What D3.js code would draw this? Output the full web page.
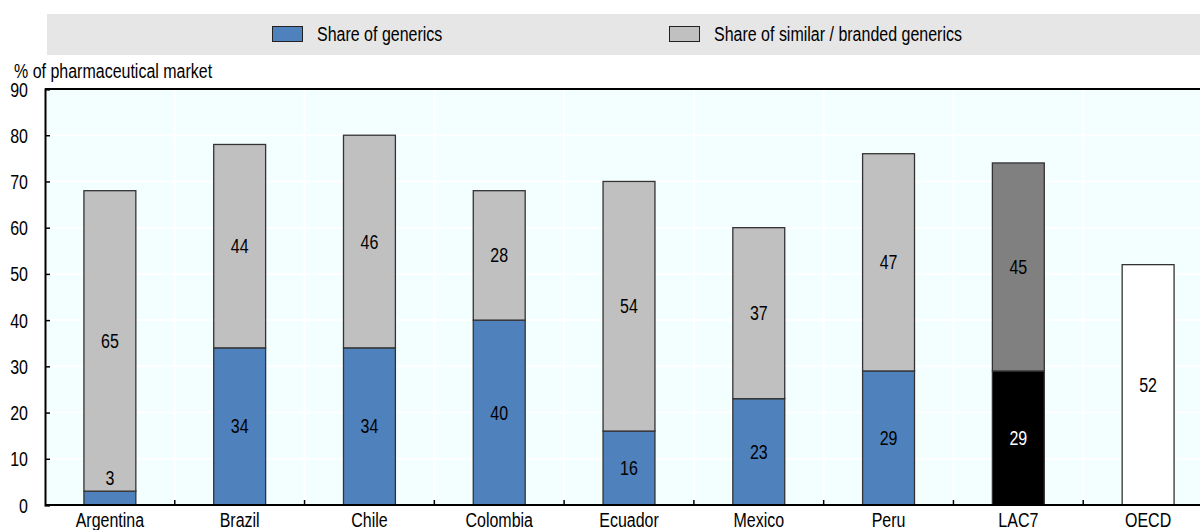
<!DOCTYPE html>
<html>
<head>
<meta charset="utf-8">
<script src="https://cdn.jsdelivr.net/npm/d3@7"></script>
<style>
  html, body { margin: 0; padding: 0; background: #fff; overflow: hidden; }
  svg { display: block; }
  text { font-family: "Liberation Sans", Arial, sans-serif; }
</style>
</head>
<body>
<svg id="chart" width="1200" height="530"></svg>
<script>
// Market shares (% of pharmaceutical market)
const categories = ["Argentina", "Brazil", "Chile", "Colombia", "Ecuador", "Mexico", "Peru", "LAC7", "OECD"];
const genericsShare = [3, 34, 34, 40, 16, 23, 29, 29, 52];
const similarShare = [65, 44, 46, 28, 54, 37, 47, 45, null];
const yTicks = [0, 10, 20, 30, 40, 50, 60, 70, 80, 90];
const legendLabels = ["Share of generics", "Share of similar / branded generics"];

const svg = d3.select("#chart");
const W = 1200, H = 530;
const FS = 19.5;      // text size
const NARROW = 0.82;  // horizontal condensing for a narrow face

const plot = { left: 45, right: 1213, top: 89, bottom: 505 };

// Places a condensed text at (px, py)
function narrowText(parent, px, py, str, opts = {}) {
  return parent.append("text")
    .attr("transform", `translate(${px},${py}) scale(${NARROW},1)`)
    .attr("text-anchor", opts.anchor || "start")
    .attr("font-size", opts.size || FS)
    .attr("fill", opts.fill || "#000")
    .text(str);
}

const x = d3.scaleBand()
  .domain(categories)
  .range([plot.left, plot.right])
  .paddingInner(0.6)
  .paddingOuter(0.3);

const y = d3.scaleLinear().domain([0, 90]).range([plot.bottom, plot.top]);

// Colour per category: regular countries, LAC7 average, OECD average
function fillGenerics(c) {
  if (c === "LAC7") return "#000000";
  if (c === "OECD") return "#ffffff";
  return "#4f81bd";
}
function fillSimilar(c) {
  return c === "LAC7" ? "#808080" : "#c0c0c0";
}

// Legend band
const legend = svg.append("g");
legend.append("rect")
  .attr("x", 47).attr("y", 14).attr("width", W - 47).attr("height", 41)
  .attr("fill", "#e6e6e6");
const legendItems = [
  { label: legendLabels[0], fill: "#4f81bd", x: 272 },
  { label: legendLabels[1], fill: "#c0c0c0", x: 669 }
];
legendItems.forEach(d => {
  legend.append("rect")
    .attr("x", d.x + 0.5).attr("y", 26.5).attr("width", 30).attr("height", 15)
    .attr("fill", d.fill).attr("stroke", "#222").attr("stroke-width", 1);
  narrowText(legend, d.x + 45, 41, d.label);
});

// Plot background
svg.append("rect")
  .attr("x", plot.left).attr("y", plot.top)
  .attr("width", plot.right - plot.left).attr("height", plot.bottom - plot.top)
  .attr("fill", "#f3ffff");

// Horizontal grid
svg.append("g")
  .selectAll("line")
  .data(yTicks.filter(t => t > 0 && t < 90))
  .join("line")
  .attr("x1", plot.left).attr("x2", plot.right)
  .attr("y1", d => y(d)).attr("y2", d => y(d))
  .attr("stroke", "#ffffff").attr("stroke-width", 2);

// Vertical grid at category boundaries
const step = x.step();
const boundaries = categories.slice(1).map(c => x(c) - (step - x.bandwidth()) / 2);
svg.append("g")
  .selectAll("line")
  .data(boundaries)
  .join("line")
  .attr("x1", d => d).attr("x2", d => d)
  .attr("y1", plot.top).attr("y2", plot.bottom)
  .attr("stroke", "#ffffff").attr("stroke-width", 2);

// Stacked bars
const rows = categories.map((c, i) => ({ c, g: genericsShare[i], s: similarShare[i] }));
const bars = svg.append("g");

bars.selectAll("rect.gen")
  .data(rows)
  .join("rect")
  .attr("class", "gen")
  .attr("x", d => x(d.c))
  .attr("width", x.bandwidth())
  .attr("y", d => y(d.g))
  .attr("height", d => y(0) - y(d.g))
  .attr("fill", d => fillGenerics(d.c))
  .attr("stroke", "#333")
  .attr("stroke-width", 1.3);

bars.selectAll("rect.sim")
  .data(rows.filter(d => d.s != null))
  .join("rect")
  .attr("class", "sim")
  .attr("x", d => x(d.c))
  .attr("width", x.bandwidth())
  .attr("y", d => y(d.g + d.s))
  .attr("height", d => y(d.g) - y(d.g + d.s))
  .attr("fill", d => fillSimilar(d.c))
  .attr("stroke", "#333")
  .attr("stroke-width", 1.3);

// Value labels
const labels = svg.append("g");
rows.forEach(d => {
  const cx = x(d.c) + x.bandwidth() / 2;
  const segPx = y(0) - y(d.g);
  // small segments get their label just above the segment
  const gy = segPx < 20 ? y(d.g) - 6 : y(d.g / 2) + 7;
  narrowText(labels, cx, gy, d.g, { anchor: "middle", fill: d.c === "LAC7" ? "#ffffff" : "#000" });
  if (d.s != null) {
    narrowText(labels, cx, y(d.g + d.s / 2) + 7, d.s, { anchor: "middle" });
  }
});

// Top border
svg.append("line")
  .attr("x1", plot.left).attr("x2", plot.right)
  .attr("y1", plot.top).attr("y2", plot.top)
  .attr("stroke", "#000").attr("stroke-width", 2);

// Y axis (ticks point into the plot)
const yAxis = d3.axisLeft(y).tickValues(yTicks).tickSize(-5).tickPadding(0);
const ya = svg.append("g").attr("transform", `translate(${plot.left},0)`).call(yAxis);
ya.select(".domain").attr("stroke", "#000").attr("stroke-width", 2);
ya.selectAll(".tick line").attr("stroke", "#000").attr("stroke-width", 1.5);
ya.selectAll(".tick text")
  .attr("font-size", FS).attr("fill", "#000")
  .attr("font-family", '"Liberation Sans", Arial, sans-serif')
  .attr("x", -17 / NARROW)
  .attr("dy", "0.36em")
  .attr("transform", `scale(${NARROW},1)`);

// X axis: baseline, boundary ticks and category labels
svg.append("line")
  .attr("x1", plot.left).attr("x2", plot.right)
  .attr("y1", plot.bottom).attr("y2", plot.bottom)
  .attr("stroke", "#000").attr("stroke-width", 2);
svg.append("g")
  .selectAll("line")
  .data(boundaries)
  .join("line")
  .attr("x1", d => d).attr("x2", d => d)
  .attr("y1", plot.bottom).attr("y2", plot.bottom - 5)
  .attr("stroke", "#000").attr("stroke-width", 1.5);
const xLabels = svg.append("g");
categories.forEach(c => {
  narrowText(xLabels, x(c) + x.bandwidth() / 2, 527, c, { anchor: "middle" });
});

// Y axis title
narrowText(svg, 14, 78, "% of pharmaceutical market");
</script>
</body>
</html>
